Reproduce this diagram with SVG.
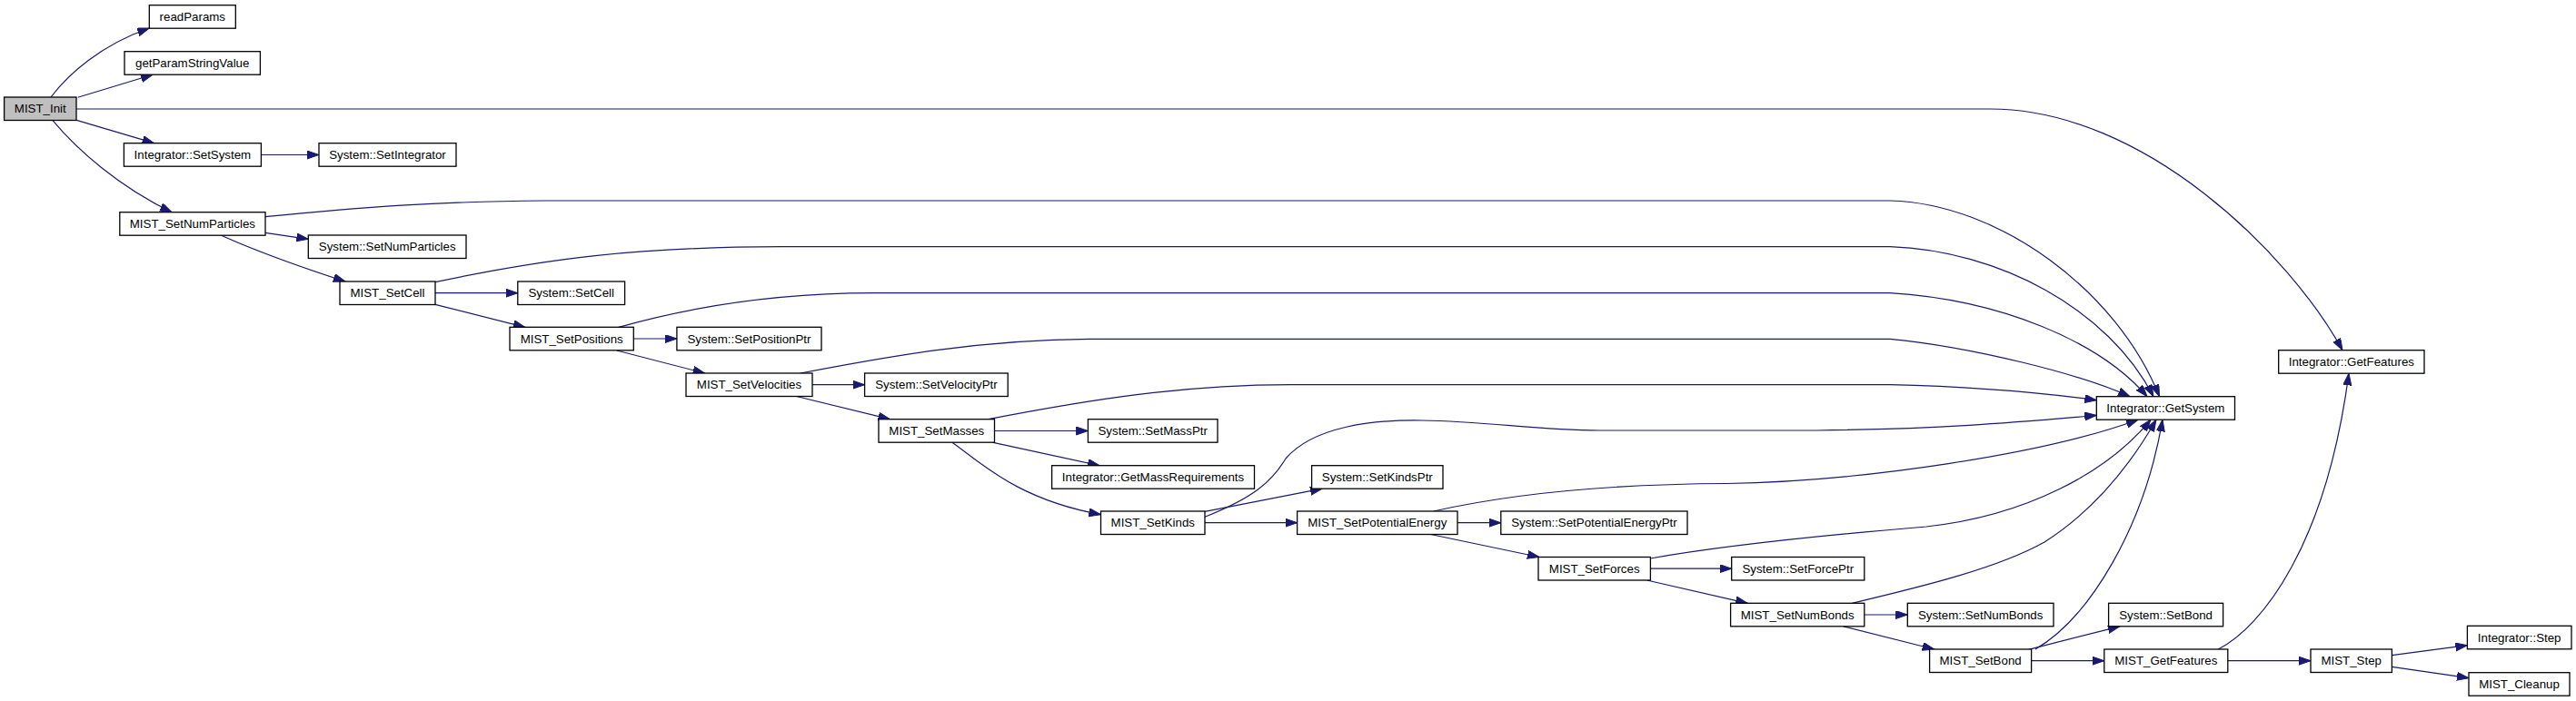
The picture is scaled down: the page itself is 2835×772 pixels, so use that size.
<svg xmlns="http://www.w3.org/2000/svg" width="2835" height="772" viewBox="0 0 2835 772">
<style>
.n rect{fill:#fff;stroke:#000;stroke-width:1.3}
.n text{font-family:"Liberation Sans",Arial,Helvetica,sans-serif;font-size:13.3px;fill:#000;text-anchor:middle}
#edges path{fill:none;stroke:#191970;stroke-width:1.2;marker-end:url(#arr)}
</style>
<defs>
<marker id="arr" markerUnits="userSpaceOnUse" markerWidth="14" markerHeight="10" refX="13" refY="4.5" orient="auto">
<path d="M0,0 L13,4.5 L0,9 z" fill="#191970" stroke="#191970" stroke-width="1"/>
</marker>
</defs>
<rect width="2835" height="772" fill="#fff"/>
<g id="edges">
<path d="M56,107 C75,82 110,50 164.3,31"/>
<path d="M85.7,107.3 L168,82.3"/>
<path d="M84,120 L2190,120 C2360,120 2520,280 2578,385.7"/>
<path d="M84.3,132.3 L169.6,157.7"/>
<path d="M58,132.7 C85,165 130,205 189,233.7"/>
<path d="M287.5,170.5 L351,170.5"/>
<path d="M292,238.7 C400,228 480,222 600,221 L2080,221 C2200,224 2330,320 2376.5,436.7"/>
<path d="M292,256.3 L339.3,263.3"/>
<path d="M243,259 C290,280 340,297 380,310"/>
<path d="M479,310.7 C600,285 700,272 860,271.7 L2080,271.7 C2200,276 2320,340 2370,436.7"/>
<path d="M479,322.7 L569.8,322.7"/>
<path d="M479,335.3 L577.8,360.3"/>
<path d="M681,360.3 C760,338 850,323 960,322.7 L2080,322.7 C2200,330 2310,375 2363,436.7"/>
<path d="M697.3,373 L744.9,373"/>
<path d="M678.8,386 L775.6,411"/>
<path d="M880.8,411 C980,392 1080,374 1200,373.3 L2080,373.3 C2170,382 2290,412 2344,436.7"/>
<path d="M894,423.7 L951.6,423.7"/>
<path d="M876.6,436.5 L979.4,461.7"/>
<path d="M1087.8,461.7 C1200,440 1300,424 1420,423.7 L2080,423.7 C2180,426 2250,433 2307.3,440.7"/>
<path d="M1094.5,474.5 L1197.4,474.5"/>
<path d="M1092,487.2 L1210,512.7"/>
<path d="M1048,487.2 C1080,510 1120,550 1211.5,566.7"/>
<path d="M1326,569.3 C1380,548 1400,530 1415,505 C1445,470 1510,462 1565,463 C1640,464 1690,474 1760,474 L2000,474 C2150,472 2230,464 2307.3,457.5"/>
<path d="M1326,563.3 L1455,538.2"/>
<path d="M1326,575.7 L1427.6,575.7"/>
<path d="M1577.7,563 C1680,540 1800,533 1900,532.5 C2050,530 2250,500 2353,462.2"/>
<path d="M1604,575.7 L1651.8,575.7"/>
<path d="M1574.6,588.5 L1694,613.5"/>
<path d="M1816.4,615 C1900,600 2000,590 2120,580 C2230,568 2320,520 2367,462.2"/>
<path d="M1816.4,626.2 L1905.7,626.2"/>
<path d="M1812.5,639 L1923.2,664.3"/>
<path d="M2038.3,664.3 C2120,645 2200,625 2250,597 C2300,565 2340,520 2373,462.2"/>
<path d="M2051.8,677 L2099.3,677"/>
<path d="M2028.6,689.8 L2128.6,715"/>
<path d="M2240,715 C2300,680 2360,580 2380,462.2"/>
<path d="M2232.4,715.3 L2332.8,689.8"/>
<path d="M2235.6,727.7 L2315.8,727.7"/>
<path d="M2440.9,715.3 C2490,690 2560,600 2585,411.2"/>
<path d="M2451.8,727.7 L2543,727.7"/>
<path d="M2632.4,721.7 L2715.4,710.7"/>
<path d="M2632.4,734.3 L2717,746.7"/>
</g>
<g id="MIST_Init" class="n"><rect x="4.6" y="107" width="79.4" height="25.5" style="fill:#bfbfbf"/><text x="44.3" y="124.4">MIST_Init</text></g>
<g id="readParams" class="n"><rect x="164.3" y="5.7" width="95" height="25.5"/><text x="211.8" y="23.1">readParams</text></g>
<g id="getParamStringValue" class="n"><rect x="137" y="56.7" width="149.4" height="25.5"/><text x="211.7" y="74.1">getParamStringValue</text></g>
<g id="Integrator_SetSystem" class="n"><rect x="136.4" y="157.7" width="151" height="25.5"/><text x="211.9" y="175.1">Integrator::SetSystem</text></g>
<g id="MIST_SetNumParticles" class="n"><rect x="131.8" y="233.7" width="160.2" height="25.5"/><text x="211.9" y="251.1">MIST_SetNumParticles</text></g>
<g id="System_SetIntegrator" class="n"><rect x="351" y="157.7" width="151" height="25.5"/><text x="426.5" y="175.1">System::SetIntegrator</text></g>
<g id="System_SetNumParticles" class="n"><rect x="339.3" y="259" width="173.7" height="25.5"/><text x="426.2" y="276.4">System::SetNumParticles</text></g>
<g id="MIST_SetCell" class="n"><rect x="374" y="310" width="105" height="25.5"/><text x="426.5" y="327.4">MIST_SetCell</text></g>
<g id="System_SetCell" class="n"><rect x="569.8" y="310" width="117.8" height="25.5"/><text x="628.7" y="327.4">System::SetCell</text></g>
<g id="MIST_SetPositions" class="n"><rect x="561" y="360.3" width="136.3" height="25.5"/><text x="629.2" y="377.7">MIST_SetPositions</text></g>
<g id="System_SetPositionPtr" class="n"><rect x="744.9" y="360.3" width="159.1" height="25.5"/><text x="824.5" y="377.7">System::SetPositionPtr</text></g>
<g id="MIST_SetVelocities" class="n"><rect x="755" y="411" width="139" height="25.5"/><text x="824.5" y="428.4">MIST_SetVelocities</text></g>
<g id="System_SetVelocityPtr" class="n"><rect x="951.6" y="411" width="157.6" height="25.5"/><text x="1030.4" y="428.4">System::SetVelocityPtr</text></g>
<g id="MIST_SetMasses" class="n"><rect x="967" y="461.7" width="127.5" height="25.5"/><text x="1030.8" y="479.1">MIST_SetMasses</text></g>
<g id="System_SetMassPtr" class="n"><rect x="1197.4" y="461.7" width="142.6" height="25.5"/><text x="1268.7" y="479.1">System::SetMassPtr</text></g>
<g id="Integrator_GetMassRequirements" class="n"><rect x="1157.6" y="512.7" width="222.9" height="25.5"/><text x="1269" y="530.1">Integrator::GetMassRequirements</text></g>
<g id="MIST_SetKinds" class="n"><rect x="1211.5" y="563" width="114.5" height="25.5"/><text x="1268.8" y="580.4">MIST_SetKinds</text></g>
<g id="System_SetKindsPtr" class="n"><rect x="1443.6" y="512.7" width="144.4" height="25.5"/><text x="1515.8" y="530.1">System::SetKindsPtr</text></g>
<g id="MIST_SetPotentialEnergy" class="n"><rect x="1427.6" y="563" width="176.4" height="25.5"/><text x="1515.8" y="580.4">MIST_SetPotentialEnergy</text></g>
<g id="System_SetPotentialEnergyPtr" class="n"><rect x="1651.8" y="563" width="205.2" height="25.5"/><text x="1754.4" y="580.4">System::SetPotentialEnergyPtr</text></g>
<g id="MIST_SetForces" class="n"><rect x="1693" y="613.5" width="123.4" height="25.5"/><text x="1754.7" y="630.9">MIST_SetForces</text></g>
<g id="System_SetForcePtr" class="n"><rect x="1905.7" y="613.5" width="146.1" height="25.5"/><text x="1978.8" y="630.9">System::SetForcePtr</text></g>
<g id="MIST_SetNumBonds" class="n"><rect x="1904.6" y="664.3" width="147.2" height="25.5"/><text x="1978.2" y="681.7">MIST_SetNumBonds</text></g>
<g id="System_SetNumBonds" class="n"><rect x="2099.3" y="664.3" width="160.7" height="25.5"/><text x="2179.7" y="681.7">System::SetNumBonds</text></g>
<g id="MIST_SetBond" class="n"><rect x="2123.6" y="715" width="112" height="25.5"/><text x="2179.6" y="732.4">MIST_SetBond</text></g>
<g id="Integrator_GetSystem" class="n"><rect x="2307.3" y="436.7" width="152.2" height="25.5"/><text x="2383.4" y="454.1">Integrator::GetSystem</text></g>
<g id="System_SetBond" class="n"><rect x="2320.6" y="664.3" width="126" height="25.5"/><text x="2383.6" y="681.7">System::SetBond</text></g>
<g id="MIST_GetFeatures" class="n"><rect x="2315.8" y="715" width="136" height="25.5"/><text x="2383.8" y="732.4">MIST_GetFeatures</text></g>
<g id="Integrator_GetFeatures" class="n"><rect x="2507.7" y="385.7" width="160.3" height="25.5"/><text x="2587.9" y="403.1">Integrator::GetFeatures</text></g>
<g id="MIST_Step" class="n"><rect x="2543" y="715" width="89.4" height="25.5"/><text x="2587.7" y="732.4">MIST_Step</text></g>
<g id="Integrator_Step" class="n"><rect x="2715.4" y="689.3" width="114.6" height="25.5"/><text x="2772.7" y="706.7">Integrator::Step</text></g>
<g id="MIST_Cleanup" class="n"><rect x="2717" y="740.7" width="111" height="25.5"/><text x="2772.5" y="758.1">MIST_Cleanup</text></g>
</svg>
